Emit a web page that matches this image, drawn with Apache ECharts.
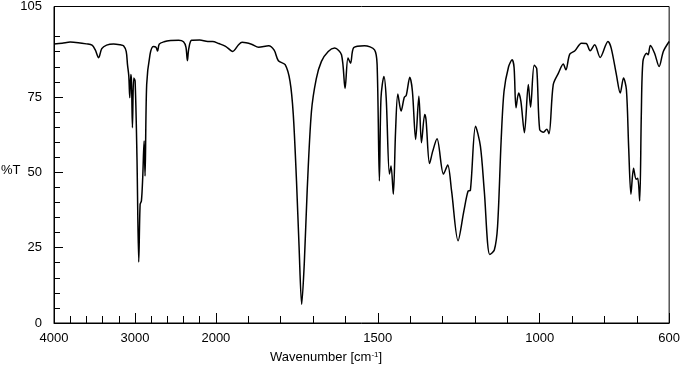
<!DOCTYPE html>
<html>
<head>
<meta charset="UTF-8">
<title>IR spectrum</title>
<script src="https://cdn.jsdelivr.net/npm/echarts@6.0.0/dist/echarts.min.js"></script>
<style>
  html, body { margin: 0; padding: 0; background: #fff; }
  #chart { width: 683px; height: 376px; }
</style>
</head>
<body>
<div id="chart"></div>
<script>
// spectrum: wavenumber (cm-1) and %T
const wavenumbers = [
  4000, 3900, 3800, 3700, 3600, 3530, 3490, 3448, 3410, 3350, 3264, 3180, 3141, 3108, 3092,
  3076, 3064, 3051, 3042, 3031, 3015, 2998, 2975, 2953, 2936, 2920, 2904, 2887, 2875, 2855,
  2814, 2773, 2740, 2720, 2700, 2640, 2560, 2460, 2400, 2370, 2352, 2335, 2300, 2200, 2100,
  2040, 1991, 1970, 1948, 1930, 1919, 1890, 1868, 1837, 1820, 1807, 1786, 1771, 1761, 1751,
  1743, 1735, 1727, 1718, 1705, 1690, 1674, 1653, 1633, 1612, 1601, 1592, 1584, 1574, 1541,
  1510, 1502, 1495, 1490, 1481, 1474, 1464, 1459, 1452, 1445, 1438, 1428, 1418, 1412, 1401,
  1393, 1383, 1373, 1365, 1355, 1351, 1340, 1330, 1317, 1297, 1284, 1272, 1252, 1234, 1221,
  1214, 1198, 1183, 1171, 1154, 1140, 1130, 1119, 1110, 1096, 1085, 1079, 1073, 1065, 1058,
  1047, 1035, 1028, 1017, 1009, 1000, 988, 978, 971, 958, 942, 927, 919, 907, 891,
  871, 856, 844, 830, 813, 789, 779, 763, 751, 741, 732, 725, 718, 710, 702,
  697, 691, 686, 681, 670, 665, 658, 645, 631, 618, 600
];
const transmittance = [
  92.6, 92.8, 93.2, 93.0, 92.6, 92.2, 90.6, 88.0, 91.0, 92.2, 92.6, 92.3, 92.0, 90.1, 85.7,
  82.0, 74.7, 82.4, 80.0, 64.8, 81.3, 80.2, 55.0, 20.2, 39.4, 40.5, 48.2, 60.4, 48.8, 79.1,
  89.0, 91.7, 91.5, 90.2, 92.5, 93.3, 93.7, 93.8, 93.3, 91.5, 87.0, 91.0, 93.8, 93.9, 93.4,
  93.4, 92.7, 91.8, 90.1, 92.3, 93.1, 92.5, 91.5, 92.0, 90.5, 87.0, 85.7, 80.2, 69.3, 47.1,
  25.1, 6.2, 19.7, 44.0, 70.0, 81.0, 86.8, 90.1, 91.2, 89.0, 77.8, 87.9, 86.2, 91.4, 92.0,
  90.6, 85.7, 47.1, 74.7, 81.8, 74.7, 49.4, 52.1, 42.7, 63.7, 76.0, 70.3, 74.9, 75.5, 81.5,
  76.9, 60.9, 75.2, 59.8, 69.2, 67.5, 52.9, 57.1, 61.1, 49.4, 52.4, 43.8, 27.3, 37.2, 43.8,
  44.0, 65.3, 58.7, 43.8, 22.7, 24.2, 32.0, 60.4, 76.9, 85.0, 87.3, 84.8, 71.4, 76.3, 73.6,
  63.1, 79.1, 71.6, 85.5, 84.4, 64.2, 63.3, 64.3, 62.8, 79.1, 82.9, 85.9, 84.0, 89.2, 90.3,
  92.8, 92.7, 90.3, 92.3, 88.1, 93.4, 91.2, 82.4, 76.3, 81.3, 77.4, 58.1, 42.7, 51.3, 47.7,
  48.0, 40.5, 69.2, 86.8, 89.5, 89.0, 92.1, 89.5, 85.1, 90.1, 93.4
];
const xLabels = [4000, 3000, 2000, 1500, 1000, 600];
const yLabels = [0, 25, 50, 75, 105];

// above 2000 cm-1 the axis is compressed 4x
function toAxis(w) { return w > 2000 ? 2000 + (w - 2000) / 4 : w; }
function fromAxis(u) { return u > 2000 ? Math.round(2000 + (u - 2000) * 4) : u; }

const xMinor = [];
for (let w = 3800; w > 2000; w -= 200) xMinor.push(toAxis(w));
for (let w = 1900; w > 600; w -= 100) if (w !== 1500 && w !== 1000) xMinor.push(w);
const yMinor = [];
for (let v = 5; v < 105; v += 5) if (v % 25 !== 0) yMinor.push(v);

const chart = echarts.init(document.getElementById('chart'));
const font = 'Liberation Sans, Arial, sans-serif';

chart.setOption({
  animation: false,
  grid: { left: 54, right: 10, top: 5, bottom: 53, show: true, borderColor: '#000', borderWidth: 1 },
  xAxis: [{
    type: 'value', min: 600, max: 2500, inverse: true, position: 'bottom',
    axisLine: { lineStyle: { color: '#000', width: 1 } },
    axisTick: { inside: true, length: 10, customValues: xLabels.map(toAxis), lineStyle: { color: '#000' } },
    axisLabel: { customValues: xLabels.map(toAxis), formatter: v => String(fromAxis(v)),
      color: '#000', fontSize: 13, fontFamily: font, margin: 9 },
    splitLine: { show: false }
  }, {
    type: 'value', min: 600, max: 2500, inverse: true, position: 'bottom',
    axisLine: { show: false },
    axisTick: { inside: true, length: 7, customValues: xMinor, lineStyle: { color: '#000' } },
    axisLabel: { show: false },
    splitLine: { show: false }
  }],
  yAxis: [{
    type: 'value', min: 0, max: 105, position: 'left',
    axisLine: { show: true, lineStyle: { color: '#000', width: 1 } },
    axisTick: { show: true, inside: true, length: 9, customValues: yLabels, lineStyle: { color: '#000' } },
    axisLabel: { customValues: yLabels, color: '#000', fontSize: 13, fontFamily: font, margin: 12 },
    splitLine: { show: false }
  }, {
    type: 'value', min: 0, max: 105, position: 'left',
    axisLine: { show: false },
    axisTick: { show: true, inside: true, length: 6, customValues: yMinor, lineStyle: { color: '#000' } },
    axisLabel: { show: false },
    splitLine: { show: false }
  }],
  graphic: [
    { type: 'text', left: 1, top: 164, style: { text: '%T', fill: '#000', fontSize: 13, fontFamily: font } },
    { type: 'text', left: 270, top: 351, style: {
      text: 'Wavenumber [cm{sup|-1}]', fill: '#000', fontSize: 13, fontFamily: font,
      rich: { sup: { fontSize: 8, fontFamily: font, fill: '#000', verticalAlign: 'top', lineHeight: 13 } }
    } }
  ],
  series: [{
    type: 'line',
    xAxisIndex: 0, yAxisIndex: 0,
    showSymbol: false,
    smooth: 0.3,
    lineStyle: { color: '#000', width: 1.5 },
    data: wavenumbers.map((w, i) => [toAxis(w), transmittance[i]])
  }]
});
</script>
</body>
</html>
